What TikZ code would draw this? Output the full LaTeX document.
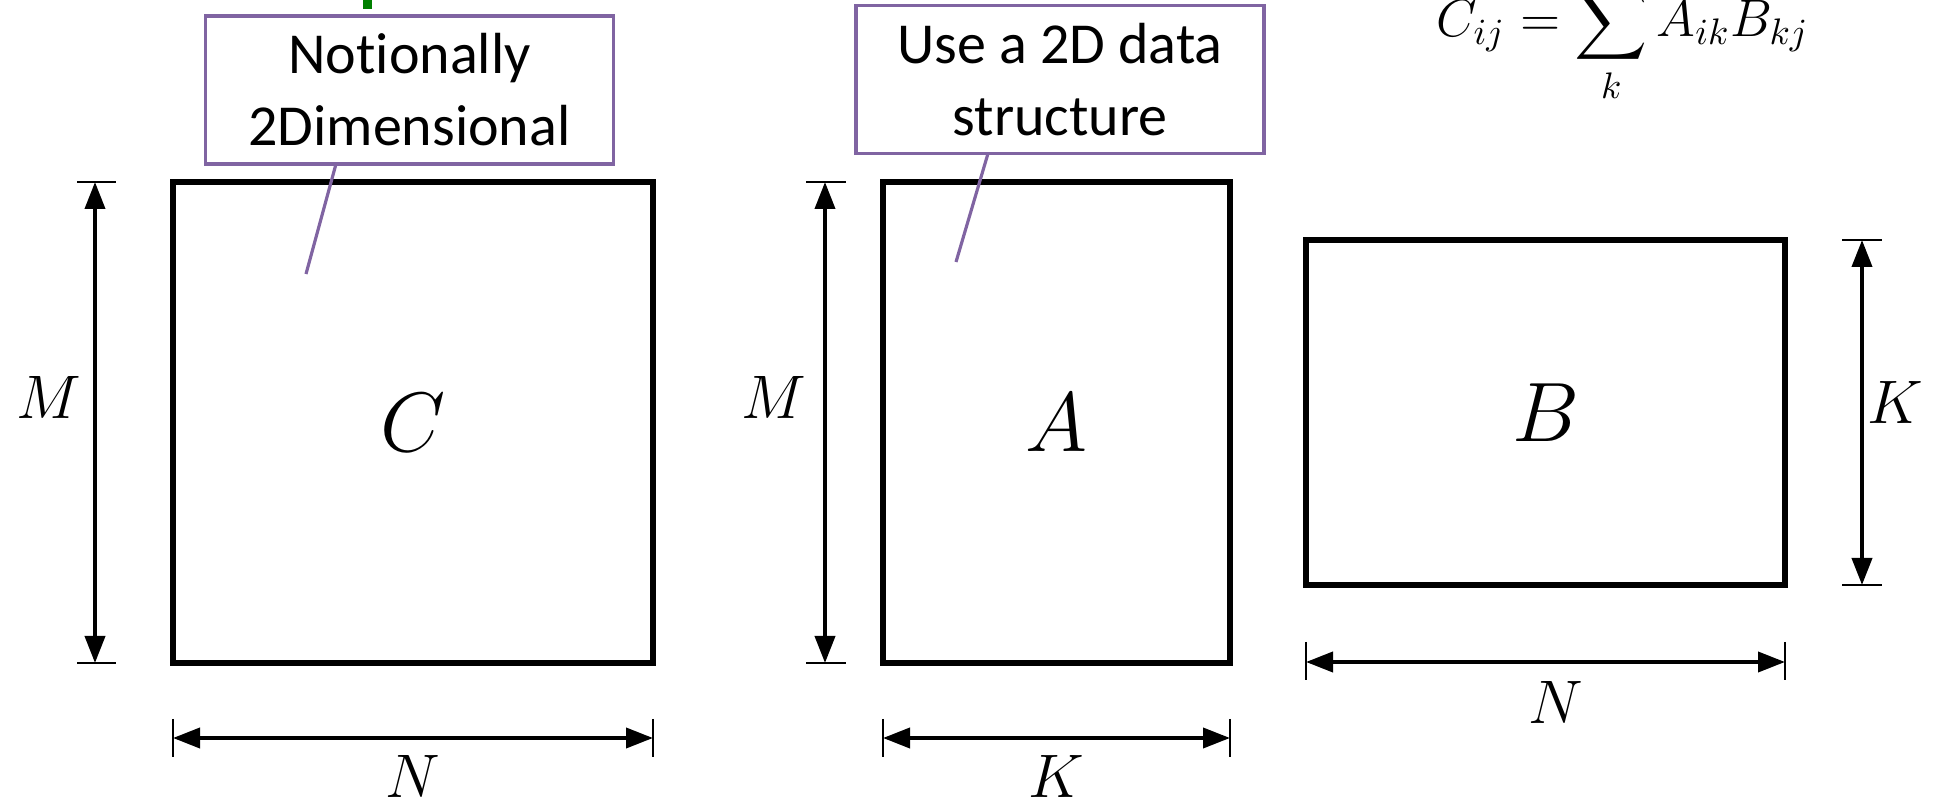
\RequirePackage{fix-cm}
\documentclass[tikz,border=0pt]{standalone}
\usepackage{amsmath}
\usepackage{fontspec}
\newfontfamily\calloutfont[Ligatures=NoCommon]{Carlito}
\usetikzlibrary{arrows.meta}
\definecolor{notepurple}{RGB}{128,100,162}
\definecolor{markgreen}{RGB}{0,128,0}
\tikzstyle{matrixbox} = [rectangle, draw=black, line width=1.5pt,
outer sep=0pt, font=\fontsize{24}{29}\selectfont]
\tikzstyle{note} = [rectangle, draw=notepurple, line width=0.9pt,
fill=white, align=center, outer sep=0pt,
minimum width=4.08cm, minimum height=1.48cm,
font=\calloutfont\fontsize{16.5}{20.5}\selectfont]
\tikzstyle{pointer} = [draw=notepurple, line width=0.9pt]
\tikzstyle{dimarrow} = [line width=1.1pt, <->, >={Triangle[length=0.27cm, width=0.2cm]}]
\tikzstyle{dimtick} = [line width=0.5pt]
\tikzstyle{dimlabel} = [font=\fontsize{17.5}{21}\selectfont]

\begin{document}
\begin{tikzpicture}
                \useasboundingbox (0,0) rectangle (19.36,-8.06);

                \node (C) [matrixbox, minimum width=4.8cm, minimum height=4.81cm] at (4.13,-4.225) {$C$};
                \node (A) [matrixbox, minimum width=3.47cm, minimum height=4.81cm] at (10.565,-4.225) {$A$};
                \node (B) [matrixbox, minimum width=4.79cm, minimum height=3.45cm] at (15.455,-4.125) {$B$};

                \node (noteC) [note] at (4.095,-0.90) {Notionally\\2Dimensional};
                \node (noteA) [note] at (10.60,-0.795) {Use a 2D data\\structure};
                \coordinate (tipC) at (3.06,-2.74);
                \coordinate (tipA) at (9.56,-2.62);

                \node (formula) [anchor=base west, inner sep=0pt, font=\fontsize{15}{18}\selectfont] at (14.36,-0.37) {$\displaystyle C_{ij} = \sum_k A_{ik}B_{kj}$};

                \fill [markgreen] (3.63,0) rectangle (3.72,-0.09);

                \draw [pointer] ([xshift=-0.735cm]noteC.south) -- (tipC);
                \draw [pointer] ([xshift=-0.72cm]noteA.south) -- (tipA);

                \draw [dimarrow] ([xshift=-0.78cm]C.north west) -- node[dimlabel, left, pos=0.448] {$M$} ([xshift=-0.78cm]C.south west);
                \draw [dimtick] ([xshift=-0.96cm]C.north west) -- ([xshift=-0.57cm]C.north west);
                \draw [dimtick] ([xshift=-0.96cm]C.south west) -- ([xshift=-0.57cm]C.south west);

                \draw [dimarrow] ([yshift=-0.75cm]C.south west) -- node[dimlabel, below, yshift=-0.035cm] {$N$} ([yshift=-0.75cm]C.south east);
                \draw [dimtick] ([yshift=-0.56cm]C.south west) -- ([yshift=-0.94cm]C.south west);
                \draw [dimtick] ([yshift=-0.56cm]C.south east) -- ([yshift=-0.94cm]C.south east);

                \draw [dimarrow] ([xshift=-0.58cm]A.north west) -- node[dimlabel, left, xshift=-0.05cm, pos=0.448] {$M$} ([xshift=-0.58cm]A.south west);
                \draw [dimtick] ([xshift=-0.77cm]A.north west) -- ([xshift=-0.37cm]A.north west);
                \draw [dimtick] ([xshift=-0.77cm]A.south west) -- ([xshift=-0.37cm]A.south west);

                \draw [dimarrow] ([yshift=-0.75cm]A.south west) -- node[dimlabel, below, yshift=-0.035cm] {$K$} ([yshift=-0.75cm]A.south east);
                \draw [dimtick] ([yshift=-0.56cm]A.south west) -- ([yshift=-0.94cm]A.south west);
                \draw [dimtick] ([yshift=-0.56cm]A.south east) -- ([yshift=-0.94cm]A.south east);

                \draw [dimarrow] ([xshift=0.77cm]B.north east) -- node[dimlabel, right, xshift=-0.08cm, pos=0.47] {$K$} ([xshift=0.77cm]B.south east);
                \draw [dimtick] ([xshift=0.57cm]B.north east) -- ([xshift=0.97cm]B.north east);
                \draw [dimtick] ([xshift=0.57cm]B.south east) -- ([xshift=0.97cm]B.south east);

                \draw [dimarrow] ([yshift=-0.77cm]B.south west) -- node[dimlabel, below, xshift=0.1cm, yshift=-0.055cm] {$N$} ([yshift=-0.77cm]B.south east);
                \draw [dimtick] ([yshift=-0.57cm]B.south west) -- ([yshift=-0.95cm]B.south west);
                \draw [dimtick] ([yshift=-0.57cm]B.south east) -- ([yshift=-0.95cm]B.south east);
\end{tikzpicture}
\end{document}
